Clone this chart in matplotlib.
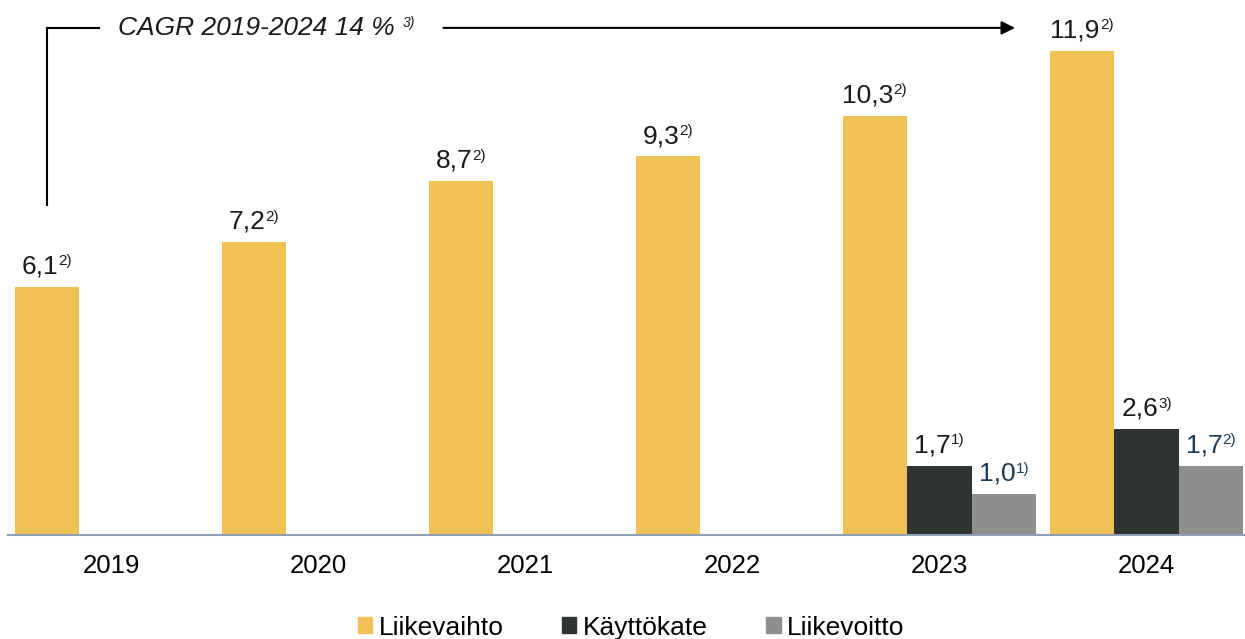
import numpy as np
import matplotlib.pyplot as plt
from matplotlib.patches import Patch
from matplotlib.offsetbox import TextArea, HPacker, AnnotationBbox

plt.rcParams['font.family'] = ['Liberation Sans', 'DejaVu Sans']

years = ['2019', '2020', '2021', '2022', '2023', '2024']
liikevaihto = [6.1, 7.2, 8.7, 9.3, 10.3, 11.9]
lv_notes = ['2)', '2)', '2)', '2)', '2)', '2)']
kayttokate = [None, None, None, None, 1.7, 2.6]
kk_notes = [None, None, None, None, '1)', '3)']
liikevoitto = [None, None, None, None, 1.0, 1.7]
lvo_notes = [None, None, None, None, '1)', '2)']

c_yellow = '#F0C154'
c_dark = '#2F3332'
c_gray = '#8F8F8F'
c_navy = '#1F3A56'

fig = plt.figure(figsize=(12.45, 6.39), dpi=100)
ax = fig.add_axes([8/1245, 104/639, 1242/1245, 535/639])

x = np.arange(len(years))
w = 0.312

def label(xpos, v, note, color, size=19, nsize=11):
    num = ('%.1f' % v).replace('.', ',')
    t1 = TextArea(num, textprops=dict(fontsize=size, color=color))
    t2 = TextArea(note, textprops=dict(fontsize=nsize, color=color))
    box = HPacker(children=[t1, t2], align='top', pad=0, sep=0)
    ab = AnnotationBbox(box, (xpos, v), xybox=(0, 6), xycoords='data',
                        boxcoords='offset points', box_alignment=(0.5, 0),
                        frameon=False, pad=0, annotation_clip=False)
    ax.add_artist(ab)

for i in range(len(years)):
    ax.bar(x[i] - w, liikevaihto[i], w, color=c_yellow)
    label(x[i] - w, liikevaihto[i], lv_notes[i], '#1a1a1a')
    if kayttokate[i] is not None:
        ax.bar(x[i], kayttokate[i], w, color=c_dark)
        label(x[i], kayttokate[i], kk_notes[i], '#1a1a1a')
    if liikevoitto[i] is not None:
        ax.bar(x[i] + w, liikevoitto[i], w, color=c_gray)
        label(x[i] + w, liikevoitto[i], lvo_notes[i], c_navy)

ax.set_xlim(-0.5, 5.5)
ax.set_ylim(0, 535/40.7)
ax.set_xticks(x)
ax.set_xticklabels(years, fontsize=18.5)
ax.tick_params(axis='x', length=0, pad=14)
ax.set_yticks([])
for s in ['top', 'right', 'left']:
    ax.spines[s].set_visible(False)
ax.spines['bottom'].set_color('#8FA1B5')
ax.spines['bottom'].set_linewidth(1.5)

# CAGR arrow
y_top = 12.46
ax.plot([x[0] - w, x[0] - w], [8.1, y_top], color='black', lw=1.5, clip_on=False)
ax.plot([x[0] - w, x[0] - 0.06], [y_top, y_top], color='black', lw=1.5, clip_on=False)
t1 = TextArea('CAGR 2019-2024 14 %', textprops=dict(fontsize=19, style='italic', color='#1a1a1a'))
t2 = TextArea('3)', textprops=dict(fontsize=10, style='italic', color='#1a1a1a'))
cagr = HPacker(children=[t1, t2], align='top', pad=0, sep=6)
ax.add_artist(AnnotationBbox(cagr, (x[0] + 0.03, y_top), box_alignment=(0, 0.5),
                             frameon=False, pad=0, annotation_clip=False))
ax.annotate('', xy=(x[5] - w - 0.31, y_top), xytext=(x[1] + 0.59, y_top),
            arrowprops=dict(arrowstyle='-|>', color='black', lw=1.5, mutation_scale=20),
            annotation_clip=False)

handles = [Patch(color=c_yellow, label='Liikevaihto'),
           Patch(color=c_dark, label='Käyttökate'),
           Patch(color=c_gray, label='Liikevoitto')]
fig.legend(handles=handles, loc='lower center', bbox_to_anchor=(0.507, -0.038), ncol=3,
           frameon=False, fontsize=19, handlelength=0.55, handleheight=0.55,
           handletextpad=0.25, columnspacing=2.2)

fig.savefig('out.png', dpi=100)
